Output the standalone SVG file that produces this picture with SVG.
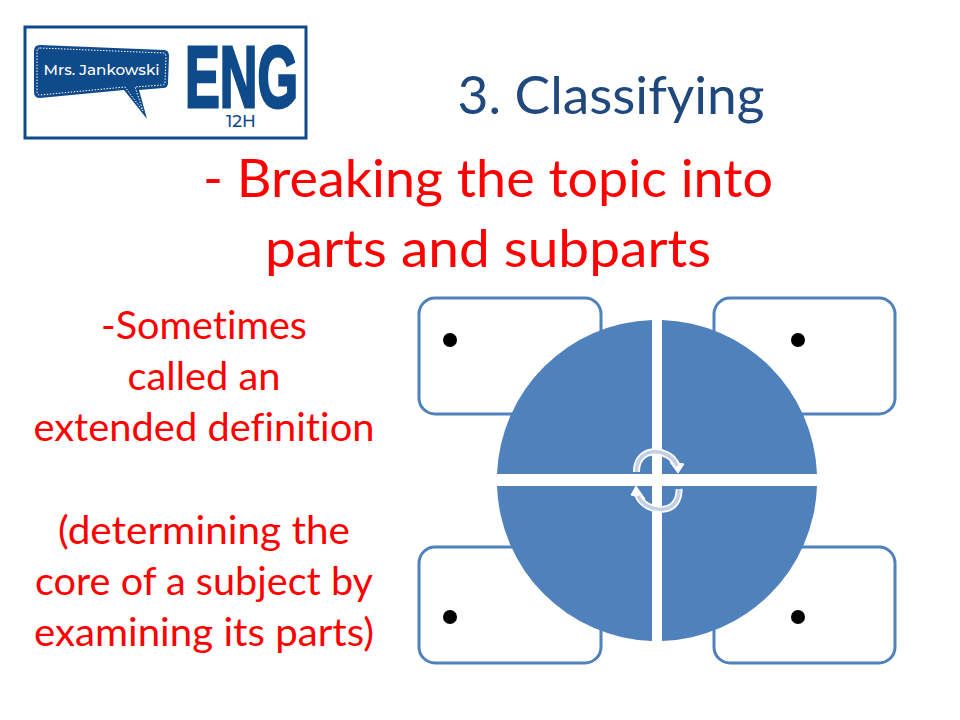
<svg xmlns="http://www.w3.org/2000/svg" width="960" height="720" viewBox="0 0 960 720">
<style>
.t{font-family:Lato,"Liberation Sans",sans-serif;text-anchor:middle;font-variant-ligatures:none}
.red{fill:#ff0000}
.s{font-size:38px}
.box{fill:#fff;stroke:#4f81bd;stroke-width:3}
.q{fill:#4f81bd}
.dot{fill:#000}
.navy{fill:#0f4a8a}
.logo{font-family:Montserrat,Lato,"Liberation Sans",sans-serif}
</style>
<rect width="960" height="720" fill="#fff"/>
<g id="logo">
<rect x="25" y="27" width="281" height="111" fill="#fff" stroke="#0f4a8a" stroke-width="3"/>
<path class="navy" d="M40 45 L164 50 Q169 50 169 56 L168 83 Q168 88 163 88 L139 90 L147 119 L124 90 L40 98 Q34 98 34 92 L34 51 Q34 45 40 45Z"/>
<path d="M40 48 L164 53 Q166 54 166 57 L165 83 Q165 85 162 85 L135 87 L143 111 L125 87 L40 95 Q37 95 37 92 L37 51 Q37 48 40 48Z" fill="none" stroke="#fff" stroke-width="1" stroke-dasharray="1.5 1.5"/>
<text class="logo" x="101.500" y="75" font-size="15" font-weight="500" fill="#fff" text-anchor="middle" textLength="116" lengthAdjust="spacingAndGlyphs">Mrs. Jankowski</text>
<text x="185" y="107" font-family="'Liberation Sans',sans-serif" font-weight="700" font-size="87" class="navy" stroke="#0f4a8a" stroke-width="3" textLength="113" lengthAdjust="spacingAndGlyphs">ENG</text>
<text class="logo navy" x="241" y="127" font-size="17" font-weight="500" text-anchor="middle">12H</text>
</g>
<g id="title">
<text class="t" x="611" y="114" font-size="52" fill="#1f497d" textLength="307" lengthAdjust="spacingAndGlyphs">3. Classifying</text>
</g>
<g id="subtitle">
<text class="t red" x="488" y="197" font-size="53" textLength="570" lengthAdjust="spacingAndGlyphs">- Breaking the topic into</text>
<text class="t red" x="488" y="267" font-size="53" textLength="446" lengthAdjust="spacingAndGlyphs">parts and subparts</text>
</g>
<g id="side-text">
<text class="t red s" x="204" y="339" textLength="206" lengthAdjust="spacingAndGlyphs">-Sometimes</text>
<text class="t red s" x="204" y="390" textLength="153" lengthAdjust="spacingAndGlyphs">called an</text>
<text class="t red s" x="204" y="441" textLength="341" lengthAdjust="spacingAndGlyphs">extended definition</text>
<text class="t red s" x="204" y="544" textLength="292" lengthAdjust="spacingAndGlyphs">(determining the</text>
<text class="t red s" x="204" y="595" textLength="338" lengthAdjust="spacingAndGlyphs">core of a subject by</text>
<text class="t red s" x="204" y="646" textLength="340" lengthAdjust="spacingAndGlyphs">examining its parts)</text>
</g>
<g id="box-tl"><rect class="box" x="419" y="298" width="182" height="116" rx="16"/><circle class="dot" cx="450" cy="340" r="7"/></g>
<g id="box-tr"><rect class="box" x="714" y="298" width="181" height="116" rx="16"/><circle class="dot" cx="798" cy="340" r="7"/></g>
<g id="box-bl"><rect class="box" x="419" y="547" width="182" height="116" rx="16"/><circle class="dot" cx="450" cy="617" r="7"/></g>
<g id="box-br"><rect class="box" x="714" y="547" width="181" height="116" rx="16"/><circle class="dot" cx="798" cy="617" r="7"/></g>
<g id="pie-tl"><path class="q" d="M652 474 H497 A160.500 160.500 0 0 1 652 320 Z"/></g>
<g id="pie-tr"><path class="q" d="M662 474 H817 A160.500 160.500 0 0 0 662 320 Z"/></g>
<g id="pie-bl"><path class="q" d="M652 486 H497 A160.500 160.500 0 0 0 652 641 Z"/></g>
<g id="pie-br"><path class="q" d="M662 486 H817 A160.500 160.500 0 0 1 662 641 Z"/></g>
<g id="connectors" fill="none" stroke-linecap="butt">
<path d="M636.500 472 C636 445 670 447 677 466" stroke="#fff" stroke-width="7"/>
<path d="M670 462 L684 464 L678 473Z" fill="#fff" stroke="#fff" stroke-width="1"/>
<path d="M636.500 472 C636 445 670 447 677 466" stroke="#c3cfe4" stroke-width="3.500"/>
<path d="M679 489 C680 516 647 514 638 496" stroke="#fff" stroke-width="7"/>
<path d="M645 499 L631 495 L636 486Z" fill="#fff" stroke="#fff" stroke-width="1"/>
<path d="M679 489 C680 516 647 514 638 496" stroke="#c3cfe4" stroke-width="3.500"/>
</g>
</svg>
